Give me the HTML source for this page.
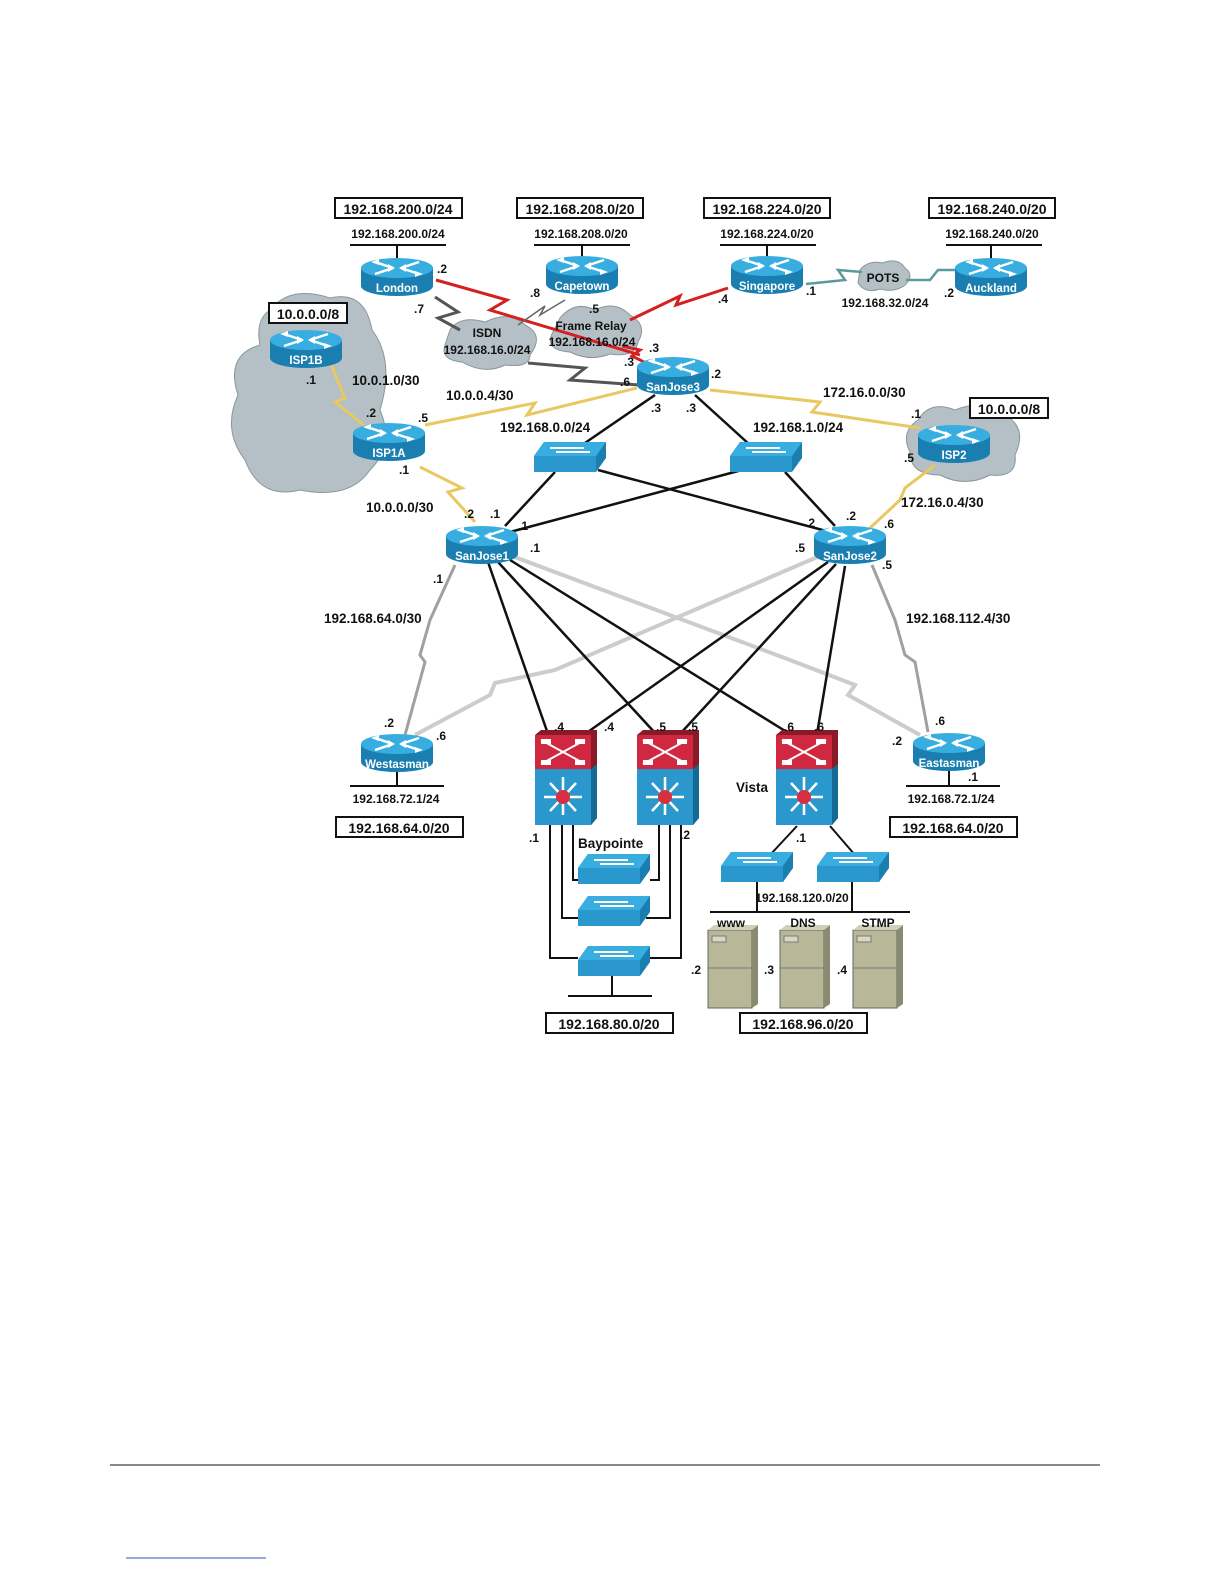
<!DOCTYPE html>
<html><head><meta charset="utf-8"><style>
html,body{margin:0;padding:0;background:#fff;}
svg{display:block;}
text{font-family:"Liberation Sans",Arial,sans-serif;font-weight:bold;fill:#111;}
.s{font-size:12px;}
.b{font-size:14px;}
.w{fill:#fff;font-size:11.5px;}
</style></head><body>
<svg width="1224" height="1584" viewBox="0 0 1224 1584" xmlns="http://www.w3.org/2000/svg">
<defs>
<g id="rt">
 <path d="M-36,-8 L-36,10 A36,10 0 0 0 36,10 L36,-8 Z" fill="#1a7fb0"/>
 <ellipse cx="0" cy="-8" rx="36" ry="10" fill="#38aee0"/>
 <path d="M-22,-14 L-4,-8 M-22,-2 L-4,-8 M22,-14 L4,-8 M22,-2 L4,-8" stroke="#fff" stroke-width="2.5"/>
 <path d="M-26,-14 L-18,-17 L-18,-11Z M26,-2 L18,1 L18,-5Z M-2,-8 L-9,-12 L-9,-4Z M2,-8 L9,-12 L9,-4Z" fill="#fff"/>
</g>
<g id="sw">
 <path d="M-36,0 L-26,-14 L36,-14 L36,2 L26,16 L-36,16 Z" fill="#1a7fb0"/>
 <path d="M-36,0 L-26,-14 L36,-14 L26,0 Z" fill="#38aee0"/>
 <rect x="-36" y="0" width="62" height="16" fill="#2a98cc"/>
 <path d="M-20,-8 L14,-8 M-14,-4 L20,-4" stroke="#fff" stroke-width="2"/>
</g>
<g id="ml">
 <rect x="-30" y="-45" width="56" height="34" fill="#d02840"/>
 <path d="M-30,-45 L-24,-50 L32,-50 L26,-45Z M26,-45 L32,-50 L32,38 L26,45Z" fill="#8a1a28"/>
 <rect x="-30" y="-11" width="56" height="56" fill="#2a98cc"/>
 <path d="M26,-11 L32,-16 L32,38 L26,45Z" fill="#156a95"/>
 <path d="M-24,-40 L20,-16 M-24,-16 L20,-40" stroke="#fff" stroke-width="2"/>
 <rect x="-24" y="-41" width="10" height="5" fill="#fff"/><rect x="10" y="-41" width="10" height="5" fill="#fff"/>
 <rect x="-24" y="-20" width="10" height="5" fill="#fff"/><rect x="10" y="-20" width="10" height="5" fill="#fff"/>
 <path d="M-2,-3 L-2,35 M-21,17 L17,17 M-15,3 L11,31 M-15,31 L11,3" stroke="#fff" stroke-width="2.5"/>
 <circle cx="-2" cy="17" r="7" fill="#d83040"/>
</g>
<g id="sv">
 <rect x="-24" y="-38" width="44" height="78" fill="#b8b898" stroke="#666" stroke-width="1"/>
 <path d="M20,-38 L26,-43 L26,36 L20,40Z" fill="#8a8a70"/>
 <path d="M-24,-38 L-18,-43 L26,-43 L20,-38Z" fill="#d0d0b8"/>
 <rect x="-20" y="-32" width="14" height="6" fill="#d8d8c0" stroke="#777"/>
 <line x1="-24" y1="0" x2="20" y2="0" stroke="#777"/>
</g>
</defs>

<g fill="#b4c0c6" stroke="#8a969c" stroke-width="1">
 <path d="M270,310 Q290,285 330,298 Q365,290 372,330 Q395,360 380,410 Q395,445 370,470 Q350,500 300,490 Q260,500 245,460 Q222,430 238,395 Q225,355 260,345 Q255,320 270,310Z"/>
 <path d="M450,330 Q460,315 485,322 Q510,310 525,325 Q545,335 530,355 Q530,368 505,365 Q485,375 462,362 Q440,360 445,345Z"/>
 <path d="M560,318 Q575,300 595,310 Q615,300 630,315 Q648,325 638,342 Q635,358 610,354 Q590,362 570,352 Q545,350 552,334Z"/>
 <path d="M860,270 Q868,260 882,263 Q898,257 905,268 Q915,275 905,285 Q895,293 880,289 Q865,294 858,283Z"/>
 <path d="M918,420 Q930,400 955,410 Q985,398 1005,415 Q1028,428 1015,455 Q1018,478 990,475 Q965,488 940,475 Q910,475 910,452 Q900,432 918,420Z"/>
</g>

<g fill="none" stroke-linejoin="miter">
 <path d="M436,280 L507,300 L490,310 L640,355" stroke="#d42020" stroke-width="3"/>
 <path d="M728,288 L676,305 L680,296 L630,320" stroke="#d42020" stroke-width="3"/>
 <path d="M622,346 L640,350 L632,356 L648,364" stroke="#d42020" stroke-width="3"/>
 <path d="M435,297 L458,312 L438,318 L460,330" stroke="#555" stroke-width="3"/>
 <path d="M565,300 L540,315 L545,306 L518,325" stroke="#666" stroke-width="1.5"/>
 <path d="M528,363 L585,368 L570,380 L640,385" stroke="#555" stroke-width="3"/>
 <path d="M330,362 L345,398 L335,402 L370,430" stroke="#e8c860" stroke-width="3"/>
 <path d="M425,425 L535,403 L527,415 L637,388" stroke="#e8c860" stroke-width="3"/>
 <path d="M420,467 L462,488 L448,492 L475,522" stroke="#e8c860" stroke-width="3"/>
 <path d="M710,390 L820,402 L812,412 L920,428" stroke="#e8c860" stroke-width="3"/>
 <path d="M935,465 L905,488 L900,500 L870,528" stroke="#e8c860" stroke-width="3"/>
 <path d="M806,284 L845,280 L838,270 L862,272" stroke="#5a9a9a" stroke-width="2.5"/>
 <path d="M906,280 L930,280 L938,270 L955,270" stroke="#5a9a9a" stroke-width="2.5"/>
 <path d="M455,565 L430,620 L420,655 L425,662 L405,735" stroke="#a0a0a0" stroke-width="3"/>
 <path d="M872,565 L895,620 L905,655 L915,662 L928,732" stroke="#a0a0a0" stroke-width="3"/>
 <path d="M822,555 L555,670 L495,683 L490,695 L415,735" stroke="#cccccc" stroke-width="4"/>
 <path d="M512,556 L790,660 L855,685 L848,695 L920,735" stroke="#cccccc" stroke-width="4"/>
 <g stroke="#111" stroke-width="2.5">
  <path d="M655,395 L582,445 M695,395 L750,445"/>
  <path d="M555,472 L505,526 M598,470 L830,532 M742,470 L510,532 M785,472 L835,526"/>
  <path d="M488,562 L548,734 M498,562 L656,734 M510,560 L790,734"/>
  <path d="M828,562 L585,734 M836,564 L680,734 M845,566 L817,734"/>
 </g>
 <g stroke="#111" stroke-width="2">
  <path d="M550,825 L550,958 L578,958 M562,825 L562,918 L578,918 M573,825 L573,880 L578,880"/>
  <path d="M681,825 L681,958 L646,958 M670,825 L670,918 L646,918 M659,825 L659,880 L650,880"/>
  <path d="M612,975 L612,996 M568,996 L652,996"/>
  <path d="M797,826 L770,855 M830,826 L855,855 M757,880 L757,912 M852,880 L852,912 M710,912 L910,912"/>
  <path d="M350,245 L446,245 M397,245 L397,262 M534,245 L630,245 M582,245 L582,260 M720,245 L816,245 M767,245 L767,260 M946,245 L1042,245 M991,245 L991,262 M350,786 L444,786 M397,769 L397,786 M906,786 L1000,786 M949,768 L949,786"/>
 </g>
</g>

<use href="#rt" x="397" y="276"/><use href="#rt" x="582" y="274"/><use href="#rt" x="767" y="274"/><use href="#rt" x="991" y="276"/>
<use href="#rt" x="306" y="348"/><use href="#rt" x="389" y="441"/><use href="#rt" x="673" y="375"/><use href="#rt" x="954" y="443"/>
<use href="#rt" x="482" y="544"/><use href="#rt" x="850" y="544"/><use href="#rt" x="397" y="752"/><use href="#rt" x="949" y="751"/>
<use href="#sw" x="570" y="456"/><use href="#sw" x="766" y="456"/>
<use href="#sw" x="614" y="868"/><use href="#sw" x="614" y="910"/><use href="#sw" x="614" y="960"/>
<use href="#sw" x="757" y="866"/><use href="#sw" x="853" y="866"/>
<use href="#ml" x="565" y="780"/><use href="#ml" x="667" y="780"/><use href="#ml" x="806" y="780"/>
<use href="#sv" x="732" y="968"/><use href="#sv" x="804" y="968"/><use href="#sv" x="877" y="968"/>

<g class="w" text-anchor="middle">
<text class="w" x="397" y="292">London</text><text class="w" x="582" y="290">Capetown</text><text class="w" x="767" y="290">Singapore</text><text class="w" x="991" y="292">Auckland</text>
<text class="w" x="306" y="364">ISP1B</text><text class="w" x="389" y="457">ISP1A</text><text class="w" x="673" y="391">SanJose3</text><text class="w" x="954" y="459">ISP2</text>
<text class="w" x="482" y="560">SanJose1</text><text class="w" x="850" y="560">SanJose2</text><text class="w" x="397" y="768">Westasman</text><text class="w" x="949" y="767">Eastasman</text>
</g>

<g fill="#fff" stroke="#111" stroke-width="2">
<rect x="335" y="198" width="127" height="20"/><rect x="517" y="198" width="126" height="20"/><rect x="704" y="198" width="126" height="20"/><rect x="929" y="198" width="126" height="20"/>
<rect x="269" y="303" width="78" height="20"/><rect x="970" y="398" width="78" height="20"/>
<rect x="336" y="817" width="127" height="20"/><rect x="890" y="817" width="127" height="20"/>
<rect x="546" y="1013" width="127" height="20"/><rect x="740" y="1013" width="127" height="20"/>
</g>
<g class="b" text-anchor="middle">
<text class="b" x="398" y="214">192.168.200.0/24</text><text class="b" x="580" y="214">192.168.208.0/20</text><text class="b" x="767" y="214">192.168.224.0/20</text><text class="b" x="992" y="214">192.168.240.0/20</text>
<text class="b" x="308" y="319">10.0.0.0/8</text><text class="b" x="1009" y="414">10.0.0.0/8</text>
<text class="b" x="399" y="833">192.168.64.0/20</text><text class="b" x="953" y="833">192.168.64.0/20</text>
<text class="b" x="609" y="1029">192.168.80.0/20</text><text class="b" x="803" y="1029">192.168.96.0/20</text>
</g>

<g class="s" text-anchor="middle">
<text class="s" x="398" y="238">192.168.200.0/24</text><text class="s" x="581" y="238">192.168.208.0/20</text><text class="s" x="767" y="238">192.168.224.0/20</text><text class="s" x="992" y="238">192.168.240.0/20</text>
<text class="s" x="487" y="337">ISDN</text><text class="s" x="487" y="354">192.168.16.0/24</text>
<text class="s" x="591" y="330">Frame Relay</text><text class="s" x="592" y="346">192.168.16.0/24</text>
<text class="s" x="883" y="282">POTS</text><text class="s" x="885" y="307">192.168.32.0/24</text>
<text class="s" x="396" y="803">192.168.72.1/24</text><text class="s" x="951" y="803">192.168.72.1/24</text>
<text class="s" x="802" y="902">192.168.120.0/20</text>
<text class="s" x="731" y="927">www</text><text class="s" x="803" y="927">DNS</text><text class="s" x="878" y="927">STMP</text>
</g>
<g>
<text x="352" y="385" style="font-size:13.5px">10.0.1.0/30</text>
<text x="446" y="400" style="font-size:13.5px">10.0.0.4/30</text>
<text x="500" y="432" style="font-size:13.5px">192.168.0.0/24</text>
<text x="753" y="432" style="font-size:13.5px">192.168.1.0/24</text>
<text x="823" y="397" style="font-size:13.5px">172.16.0.0/30</text>
<text x="901" y="507" style="font-size:13.5px">172.16.0.4/30</text>
<text x="366" y="512" style="font-size:13.5px">10.0.0.0/30</text>
<text x="324" y="623" style="font-size:13.5px">192.168.64.0/30</text>
<text x="906" y="623" style="font-size:13.5px">192.168.112.4/30</text>
<text x="578" y="848" style="font-size:13.5px">Baypointe</text>
<text x="736" y="792" style="font-size:13.5px">Vista</text>
</g>
<g class="s">
<text x="437" y="273">.2</text><text x="414" y="313">.7</text><text x="530" y="297">.8</text><text x="589" y="313">.5</text>
<text x="718" y="303">.4</text><text x="806" y="295">.1</text><text x="944" y="297">.2</text>
<text x="306" y="384">.1</text><text x="366" y="417">.2</text><text x="418" y="422">.5</text><text x="399" y="474">.1</text>
<text x="649" y="352">.3</text><text x="624" y="366">.3</text><text x="620" y="386">.6</text><text x="711" y="378">.2</text>
<text x="651" y="412">.3</text><text x="686" y="412">.3</text>
<text x="911" y="418">.1</text><text x="904" y="462">.5</text>
<text x="464" y="518">.2</text><text x="490" y="518">.1</text><text x="518" y="530">.1</text><text x="530" y="552">.1</text><text x="433" y="583">.1</text>
<text x="805" y="527">.2</text><text x="846" y="520">.2</text><text x="884" y="528">.6</text><text x="795" y="552">.5</text><text x="882" y="569">.5</text>
<text x="384" y="727">.2</text><text x="436" y="740">.6</text><text x="935" y="725">.6</text><text x="892" y="745">.2</text><text x="968" y="781">.1</text>
<text x="554" y="731">.4</text><text x="604" y="731">.4</text><text x="656" y="731">.5</text><text x="688" y="731">.5</text>
<text x="784" y="731">.6</text><text x="814" y="731">.6</text>
<text x="529" y="842">.1</text><text x="680" y="839">.2</text><text x="796" y="842">.1</text>
<text x="691" y="974">.2</text><text x="764" y="974">.3</text><text x="837" y="974">.4</text>
</g>

<line x1="110" y1="1465" x2="1100" y2="1465" stroke="#111" stroke-width="1"/>
<line x1="126" y1="1558" x2="266" y2="1558" stroke="#3050c0" stroke-width="1"/>
</svg>
</body></html>
